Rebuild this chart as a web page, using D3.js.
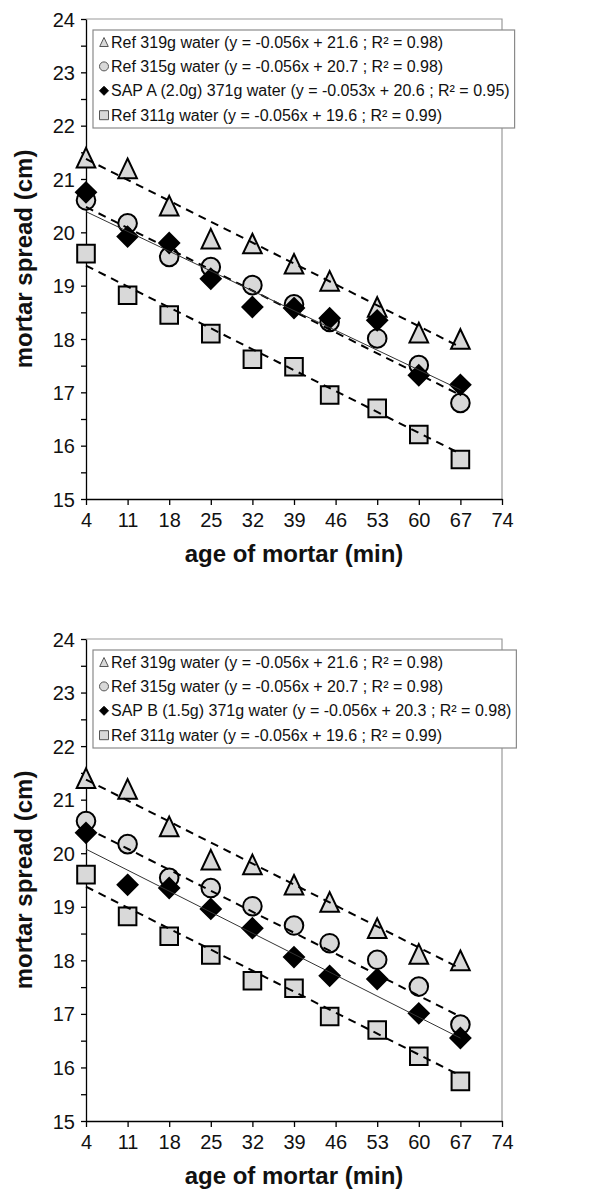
<!DOCTYPE html>
<html><head><meta charset="utf-8">
<script src="https://cdn.jsdelivr.net/npm/d3@7"></script>
<style>body{margin:0;background:#fff} svg{display:block}</style>
</head><body>
<svg id="c" width="613" height="1203"></svg>
<script>
// ---------- data ----------
const ages = [4, 11, 18, 25, 32, 39, 45, 53, 60, 67];
const xTickValues = [4, 11, 18, 25, 32, 39, 46, 53, 60, 67, 74];
const yTickValues = [15, 15.5, 16, 16.5, 17, 17.5, 18, 18.5, 19, 19.5, 20, 20.5, 21, 21.5, 22, 22.5, 23, 23.5, 24];
const ref319 = [21.4, 21.2, 20.5, 19.88, 19.79, 19.41, 19.09, 18.6, 18.12, 18.0];
const ref315 = [20.6, 20.17, 19.54, 19.35, 19.01, 18.65, 18.32, 18.01, 17.51, 16.8];
const ref311 = [19.6, 18.82, 18.45, 18.1, 17.62, 17.48, 16.95, 16.7, 16.21, 15.74];
const sapA = [20.75, 19.92, 19.8, 19.13, 18.6, 18.58, 18.39, 18.35, 17.32, 17.14];
const sapB = [20.38, 19.41, 19.35, 18.96, 18.6, 18.06, 17.71, 17.65, 17.01, 16.55];
const fit319 = [-0.056, 21.6];
const fit315 = [-0.056, 20.7];
const fit311 = [-0.056, 19.6];
const fitSapA = [-0.053, 20.6];
const fitSapB = [-0.056, 20.3];
const legendTop = [
  "Ref 319g water (y = -0.056x + 21.6 ; R² = 0.98)",
  "Ref 315g water (y = -0.056x + 20.7 ; R² = 0.98)",
  "SAP A (2.0g) 371g water (y = -0.053x + 20.6 ; R² = 0.95)",
  "Ref 311g water (y = -0.056x + 19.6 ; R² = 0.99)"
];
const legendBottom = [
  "Ref 319g water (y = -0.056x + 21.6 ; R² = 0.98)",
  "Ref 315g water (y = -0.056x + 20.7 ; R² = 0.98)",
  "SAP B (1.5g) 371g water (y = -0.056x + 20.3 ; R² = 0.98)",
  "Ref 311g water (y = -0.056x + 19.6 ; R² = 0.99)"
];
const xTitle = "age of mortar (min)";
const yTitle = "mortar spread (cm)";

// ---------- layout ----------
const FONT = "'Liberation Sans', Arial, sans-serif";
const svg = d3.select("#c");
const X0 = 86, X1 = 502;
const panels = [
  {top: 19, bottom: 499, sap: sapA, sapFit: fitSapA, labels: legendTop},
  {top: 639, bottom: 1121, sap: sapB, sapFit: fitSapB, labels: legendBottom}
];

function markerPath(type, s) {
  if (type === "tri") return `M0,${-s}L${s * 0.95},${s}L${-s * 0.95},${s}Z`;
  if (type === "sq") return `M${-s},${-s}H${s}V${s}H${-s}Z`;
  if (type === "dia") return `M0,${-s}L${s},0L0,${s}L${-s},0Z`;
  return d3.arc()({innerRadius: 0, outerRadius: s, startAngle: 0, endAngle: 2 * Math.PI});
}

panels.forEach(p => {
  const x = d3.scaleLinear().domain([4, 74]).range([X0, X1]);
  const y = d3.scaleLinear().domain([15, 24]).range([p.bottom, p.top]);
  const g = svg.append("g");

  // top/right frame
  g.append("path").attr("d", `M${X0},${p.top}H${X1}V${p.bottom}`)
    .attr("fill", "none").attr("stroke", "#9a9a9a").attr("stroke-width", 1.2);

  // axes
  const gy = g.append("g").attr("transform", `translate(${X0},0)`)
    .call(d3.axisLeft(y).tickValues(yTickValues).tickSize(5).tickSizeOuter(0)
      .tickFormat(d => Number.isInteger(d) ? d : ""));
  const gx = g.append("g").attr("transform", `translate(0,${p.bottom})`)
    .call(d3.axisBottom(x).tickValues(xTickValues).tickSize(6).tickSizeOuter(0).tickPadding(8));
  [gx, gy].forEach(a => {
    a.attr("font-family", FONT).attr("font-size", 20);
    a.selectAll("path, line").attr("stroke", "#000").attr("stroke-width", 1.3);
    a.selectAll("text").attr("fill", "#111");
  });
  gy.selectAll(".tick text").attr("x", -11).attr("dy", "0.35em");

  // series
  const series = [
    {vals: ref319, type: "tri", s: 9.8, fill: "#d9d9d9", fit: fit319, dash: "8,6", lw: 2},
    {vals: ref315, type: "circ", s: 9.3, fill: "#d9d9d9", fit: fit315, dash: "8,6", lw: 2},
    {vals: p.sap, type: "dia", s: 10, fill: "#000", fit: p.sapFit, dash: null, lw: 1},
    {vals: ref311, type: "sq", s: 8.8, fill: "#d9d9d9", fit: fit311, dash: "8,6", lw: 2}
  ];
  series.forEach(s => {
    g.append("g").selectAll("path").data(s.vals).join("path")
      .attr("d", markerPath(s.type, s.s))
      .attr("transform", (d, i) => `translate(${x(ages[i])},${y(d)})`)
      .attr("fill", s.fill).attr("stroke", "#000").attr("stroke-width", 2);
  });
  const line = d3.line().x(d => x(d[0])).y(d => y(d[1]));
  series.forEach(s => {
    const ends = [ages[0], ages[ages.length - 1]].map(a => [a, s.fit[0] * a + s.fit[1]]);
    g.append("path").attr("d", line(ends)).attr("fill", "none")
      .attr("stroke", s.dash ? "#000" : "#333").attr("stroke-width", s.lw)
      .attr("stroke-dasharray", s.dash);
  });

  // legend
  const lg = g.append("g");
  const lx = X0 + 7, ly = p.top + 11;
  const box = lg.append("rect").attr("x", lx).attr("y", ly).attr("height", 98)
    .attr("fill", "#fff").attr("stroke", "#8a8a8a").attr("stroke-width", 1.2);
  let maxW = 0;
  series.forEach((s, i) => {
    const cy = ly + 12 + i * 24.4;
    lg.append("path").attr("d", markerPath(s.type, 4.5))
      .attr("transform", `translate(${lx + 11},${cy})`)
      .attr("fill", s.type === "dia" ? "#000" : "#d9d9d9")
      .attr("stroke", s.type === "dia" ? "#000" : "#555").attr("stroke-width", 1);
    const t = lg.append("text").text(p.labels[i])
      .attr("x", lx + 18).attr("y", cy)
      .attr("dy", "0.35em").attr("font-family", FONT).attr("font-size", 16).attr("fill", "#111");
    maxW = Math.max(maxW, t.node().getComputedTextLength());
  });
  box.attr("width", 18 + maxW + 5);

  // titles
  g.append("text").text(xTitle)
    .attr("x", (X0 + X1) / 2).attr("y", p.bottom + 55)
    .attr("dy", "0.35em").attr("text-anchor", "middle")
    .attr("font-family", FONT).attr("font-size", 24).attr("font-weight", "bold").attr("fill", "#111");
  g.append("text").text(yTitle)
    .attr("transform", `translate(24,${(p.top + p.bottom) / 2}) rotate(-90)`)
    .attr("dy", "0.35em").attr("text-anchor", "middle")
    .attr("font-family", FONT).attr("font-size", 24).attr("font-weight", "bold").attr("fill", "#111");
});
</script>
</body></html>
